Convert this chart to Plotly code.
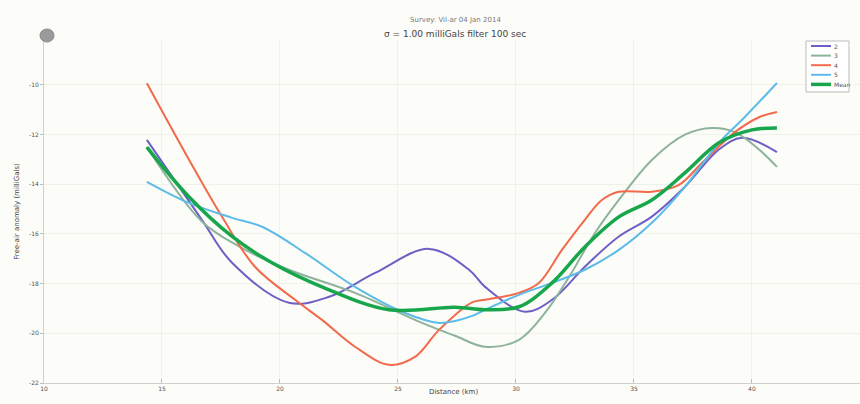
import plotly.graph_objects as go

# Data (distance km, free-air anomaly mGal)
x_s2 = [14.36, 16.69, 17.97, 20.38, 22.08, 24.03, 26.31, 28.01, 28.69, 30.38, 31.53, 32.92, 34.36, 35.76, 37.16, 38.60, 39.58, 41.06]
y_s2 = [-12.21, -15.43, -17.16, -18.77, -18.53, -17.57, -16.60, -17.44, -18.13, -19.13, -18.65, -17.32, -16.10, -15.30, -14.10, -12.60, -12.13, -12.70]

x_s3 = [14.36, 16.69, 18.26, 20.38, 23.18, 26.02, 27.42, 28.69, 30.13, 31.23, 32.25, 33.35, 34.36, 35.76, 37.16, 38.31, 39.28, 40.30, 41.06]
y_s3 = [-12.50, -15.50, -16.50, -17.44, -18.37, -19.58, -20.10, -20.54, -20.26, -19.18, -17.73, -15.96, -14.63, -13.02, -12.00, -11.73, -11.90, -12.60, -13.30]

x_s4 = [14.36, 16.14, 17.54, 18.94, 20.64, 21.78, 23.18, 24.62, 25.72, 26.74, 28.14, 28.69, 30.13, 30.97, 31.95, 32.92, 33.64, 34.36, 35.76, 36.91, 37.88, 39.28, 40.30, 41.06]
y_s4 = [-9.93, -13.00, -15.30, -17.32, -18.65, -19.46, -20.54, -21.27, -20.95, -19.86, -18.75, -18.65, -18.37, -17.97, -16.64, -15.43, -14.63, -14.30, -14.30, -14.02, -13.14, -11.90, -11.30, -11.09]

x_s5 = [14.36, 16.14, 17.97, 19.24, 21.06, 23.18, 25.30, 26.74, 27.42, 28.14, 28.69, 30.13, 31.53, 32.92, 34.36, 35.76, 37.16, 38.60, 39.70, 41.06]
y_s5 = [-13.90, -14.75, -15.35, -15.71, -16.76, -18.13, -19.18, -19.58, -19.50, -19.30, -19.05, -18.45, -17.97, -17.44, -16.64, -15.55, -14.10, -12.33, -11.29, -9.92]

x_mean = [14.36, 16.14, 17.97, 19.66, 21.78, 24.62, 27.42, 28.69, 30.13, 31.53, 32.92, 34.36, 35.76, 37.16, 38.60, 40.00, 41.06]
y_mean = [-12.50, -14.50, -16.10, -17.16, -18.13, -19.05, -18.95, -19.05, -18.93, -17.97, -16.52, -15.31, -14.63, -13.54, -12.33, -11.81, -11.73]

series_names = ["2", "3", "4", "5", "Mean"]
x_ticks = [10, 15, 20, 25, 30, 35, 40, 45]
y_ticks = [-22, -20, -18, -16, -14, -12, -10]

colors = ["#6e5fc6", "#8db39b", "#f26a4b", "#5dbbe8", "#17a64b"]
widths = [2, 2, 2, 2, 3.5]

fig = go.Figure()
for name, xs, ys, c, w in zip(series_names,
                              [x_s2, x_s3, x_s4, x_s5, x_mean],
                              [y_s2, y_s3, y_s4, y_s5, y_mean],
                              colors, widths):
    fig.add_trace(go.Scatter(x=xs, y=ys, mode="lines", name=name, showlegend=False,
                             line=dict(color=c, width=w, shape="spline", smoothing=1.0)))

L, R, T, B, W, H = 44, 0, 40, 21, 860, 404
PW, PH = W - L - R, H - T - B

fig.update_layout(
    width=W, height=H,
    margin=dict(l=L, r=R, t=T, b=B),
    paper_bgcolor="#fcfcf8", plot_bgcolor="#fcfcf8",
    font=dict(family="DejaVu Sans", size=7, color="#555555"),
    showlegend=False,
    xaxis=dict(range=[10, 44.58], tickvals=x_ticks, ticktext=[str(t) for t in x_ticks],
               showgrid=True, gridcolor="#f1f1ec", zeroline=False,
               showline=True, linecolor="#cfcfcf", ticks="inside", ticklen=4,
               tickcolor="#bbbbbb", tickfont=dict(size=6)),
    yaxis=dict(range=[-22, -8.19], tickvals=y_ticks, ticktext=[str(t) for t in y_ticks],
               showgrid=True, gridcolor="#f1f1ec", zeroline=False,
               showline=True, linecolor="#cfcfcf", ticks="outside", ticklen=3,
               tickcolor="#bbbbbb", tickfont=dict(size=6),
               title=dict(text="Free-air anomaly (milliGals)", font=dict(size=7, color="#444444"), standoff=8)),
)


def px_to_paper(px, py):
    return (px - L) / PW, (H - B - py) / PH


# Titles
ax, ay = px_to_paper(455, 14)
bx, by = px_to_paper(455, 27)
cx, cy = px_to_paper(453, 398)
fig.add_annotation(text="Survey: Vil-ar 04 Jan 2014", x=ax, y=ay, xref="paper", yref="paper",
                   showarrow=False, font=dict(size=7, color="#777777"))
fig.add_annotation(text="σ = 1.00 milliGals filter 100 sec", x=bx, y=by, xref="paper", yref="paper",
                   showarrow=False, font=dict(size=9, color="#444444"))
fig.add_annotation(text="Distance (km)", x=cx, y=cy, xref="paper", yref="paper",
                   showarrow=False, font=dict(size=7, color="#444444"))

# small grey circle at top left
c0x, c0y = px_to_paper(40, 29)
c1x, c1y = px_to_paper(54, 42)
fig.add_shape(type="circle", xref="paper", yref="paper", x0=c0x, y0=c1y, x1=c1x, y1=c0y,
              fillcolor="#9a9a9a", line=dict(color="#8a8a8a", width=1))

# compact legend box (as in the reference)
bx0, by0 = px_to_paper(806, 41)
bx1, by1 = px_to_paper(849, 92)
fig.add_shape(type="rect", xref="paper", yref="paper", x0=bx0, y0=by1, x1=bx1, y1=by0,
              fillcolor="#ffffff", line=dict(color="#bbbbbb", width=1), layer="above")
for i, (name, c, w) in enumerate(zip(series_names, colors, widths)):
    py = 46 + i * 9.6
    lx0, ly = px_to_paper(811, py)
    lx1, _ = px_to_paper(831, py)
    fig.add_shape(type="line", xref="paper", yref="paper", x0=lx0, y0=ly, x1=lx1, y1=ly,
                  line=dict(color=c, width=w), layer="above")
    tx, _ = px_to_paper(833, py)
    fig.add_annotation(text=name, x=tx, y=ly, xref="paper", yref="paper",
                       xanchor="left", yanchor="middle", borderpad=0,
                       showarrow=False, font=dict(size=6, color="#555555"))

fig.write_html("out.html")
